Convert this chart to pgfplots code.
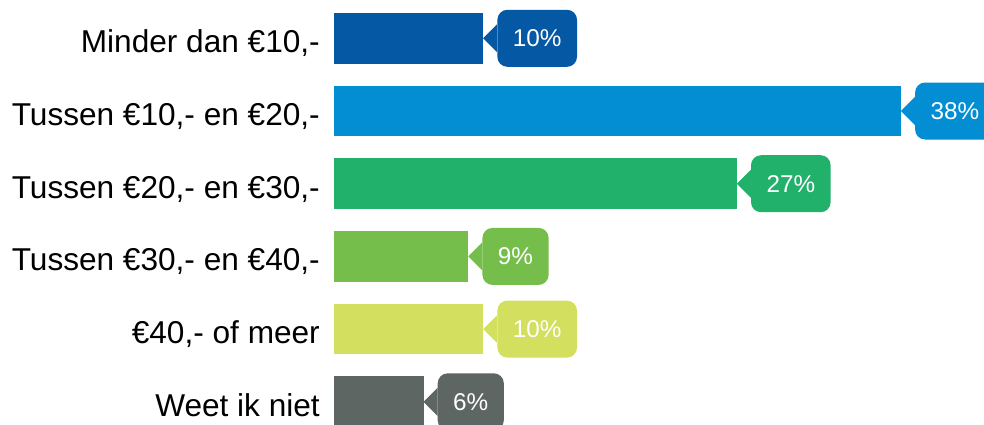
\documentclass[border=0pt]{standalone}
\usepackage{pgfplots}
\pgfplotsset{compat=1.18}
\usepackage{fontspec}
\setmainfont{Liberation Sans}
\definecolor{c1}{HTML}{0558A3}
\definecolor{c2}{HTML}{038DD2}
\definecolor{c3}{HTML}{22B16B}
\definecolor{c4}{HTML}{76BE4B}
\definecolor{c5}{HTML}{D2DF5F}
\definecolor{c6}{HTML}{5D6662}
\pgfplotsset{
  callout/.style={
    fill=#1, draw=none,
    nodes near coords={\pgfmathprintnumber[assume math mode=true]{\pgfplotspointmeta}\%},
    every node near coord/.append style={
      anchor=west, xshift=14pt, text=white,
      font=\fontsize{24.3}{24.3}\selectfont,
      inner xsep=15.5pt, inner ysep=0pt, minimum height=57pt,
      rounded corners=10pt, fill=#1,
      append after command={\pgfextra{\fill[#1] ([yshift=14pt]\tikzlastnode.west) -- ([xshift=-14pt]\tikzlastnode.west) -- ([yshift=-14pt]\tikzlastnode.west) -- cycle;}}
    }
  }
}
\begin{document}
\begin{tikzpicture}
\begin{axis}[
  name=ax,
  scale only axis,
  width=650pt, height=424pt,
  xmin=0, xmax=43.57,
  ymin=-0.5268, ymax=5.3054,
  y dir=reverse,
  xbar, bar width=50.7pt, bar shift=0pt,
  hide x axis,
  y axis line style={draw=none},
  major tick length=0pt,
  ytick={0,1,2,3,4,5},
  yticklabels={{Minder dan €10,-},{Tussen €10,- en €20,-},{Tussen €20,- en €30,-},{Tussen €30,- en €40,-},{€40,- of meer},{Weet ik niet}},
  yticklabel style={font=\fontsize{31.6}{31.6}\selectfont, text=black, inner sep=0pt, anchor=base east, xshift=-14pt, yshift=-14.5pt},
  clip=false,
]
\addplot[callout=c1] coordinates {(10,0)};
\addplot[callout=c2] coordinates {(38,1)};
\addplot[callout=c3] coordinates {(27,2)};
\addplot[callout=c4] coordinates {(9,3)};
\addplot[callout=c5] coordinates {(10,4)};
\addplot[callout=c6] coordinates {(6,5)};
\end{axis}
\pgfresetboundingbox
\path ([xshift=-334pt]ax.south west) rectangle (ax.north east);
\end{tikzpicture}
\end{document}
